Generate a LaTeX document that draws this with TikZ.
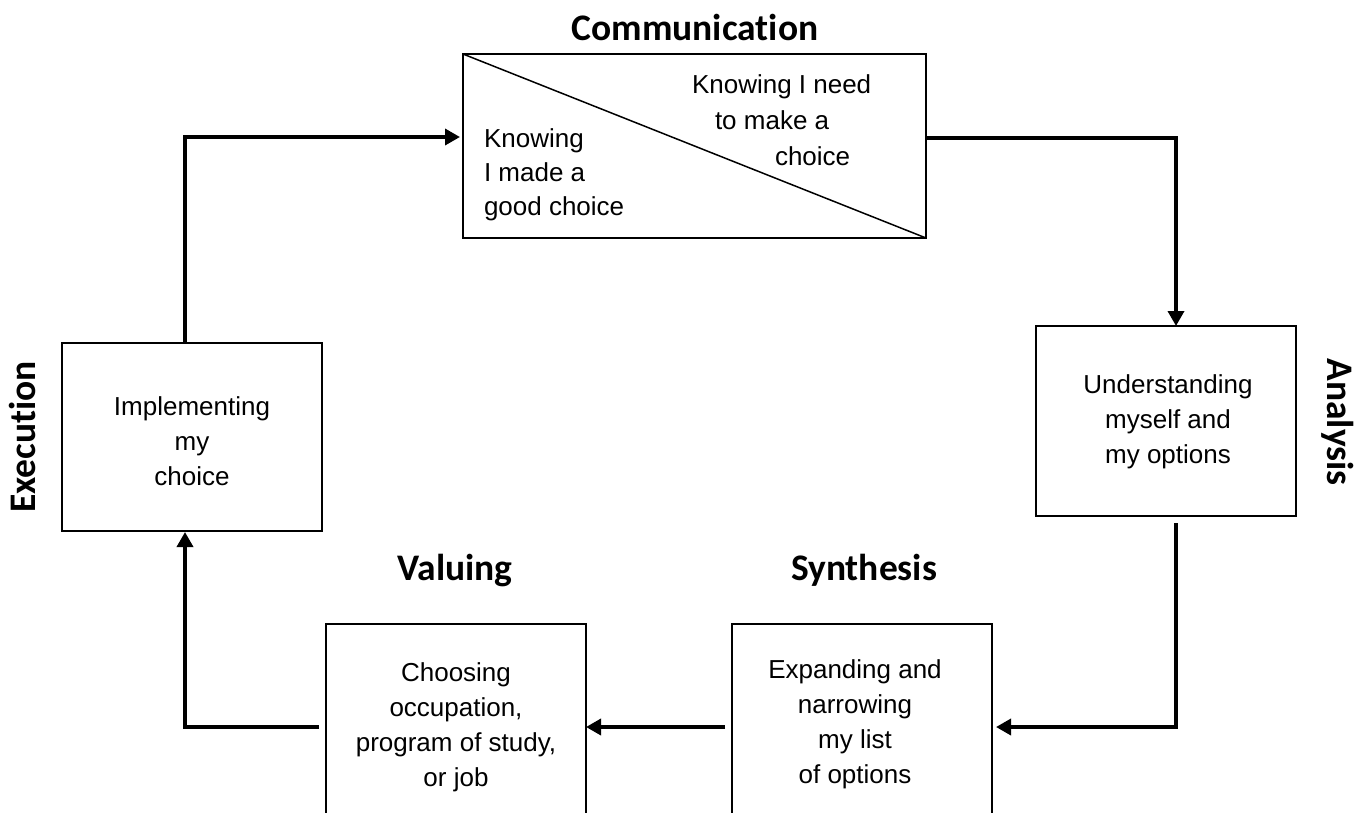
\documentclass[tikz,border=0pt]{standalone}
\usepackage{fontspec}
\setmainfont{Liberation Sans}
\newfontfamily\titlefont[Ligatures=NoCommon]{Carlito}
\usetikzlibrary{arrows.meta,calc}
\begin{document}
\begin{tikzpicture}[x=1pt,y=-1pt,
  box/.style={draw, line width=2pt, inner sep=0pt, outer sep=0pt, anchor=north west},
  flow/.style={line width=3.5pt, -{Triangle[length=15pt,width=16pt]}},
  body/.style={font=\fontsize{26}{35}\selectfont, inner sep=0pt, outer sep=0pt, align=center, anchor=north},
  ttl/.style={font=\titlefont\bfseries\fontsize{37.5}{40}\selectfont, inner sep=0pt, anchor=base}]
\useasboundingbox (0,0) rectangle (1368,812);
\clip (0,0) rectangle (1368,812);
\fill[white] (0,0) rectangle (1368,812);
% boxes
\node[box, minimum width=463pt, minimum height=184pt] (comm) at (463,54) {};
\node[box, minimum width=260pt, minimum height=190pt] (anal) at (1036,326) {};
\node[box, minimum width=260pt, minimum height=230pt] (synt) at (732,624) {};
\node[box, minimum width=260pt, minimum height=230pt] (valu) at (326,624) {};
\node[box, minimum width=260pt, minimum height=188pt] (exec) at (62,343) {};
\draw[line width=1.5pt] (comm.north west) -- (comm.south east);
% texts
\node[body] (exectxt) at (192,397) {Implementing\\my\\choice};
\node[body] (analtxt) at (1168,375) {Understanding\\myself and\\my options};
\node[body] (valutxt) at (456,663) {Choosing\\occupation,\\program of study,\\or job};
\node[body] (synttxt) at (855,660) {Expanding and\\narrowing\\my list\\of options};
\node[body, align=left, anchor=north west, font=\fontsize{26}{36}\selectfont] (need) at (692,75) {Knowing I need\\\hspace*{23pt}to make a\\\hspace*{83pt}choice};
\node[body, align=left, anchor=north west, font=\fontsize{26}{34}\selectfont] (made) at (484,129) {Knowing\\I made a\\good choice};
% titles
\node[ttl] (tcomm) at (695,40) {Communication};
\node[ttl] (tvalu) at (455,580) {Valuing};
\node[ttl] (tsynt) at (864,580) {Synthesis};
\node[ttl, rotate=90] (texec) at (35,437) {Execution};
\node[ttl, rotate=-90] (tanal) at (1327,422) {Analysis};
% connectors
\coordinate (c1) at (1176,138);
\coordinate (c2) at (1176,727);
\coordinate (c3) at (185,727);
\coordinate (c4) at (185,137);
\draw[flow] (comm.east |- c1) -- (c1) -- (anal.north -| c1);
\draw[flow] ($(anal.south -| c2)+(0,7)$) -- (c2) -- ($(synt.east |- c2)+(4,0)$);
\draw[flow] ($(synt.west |- c2)+(-7,0)$) -- (valu.east |- c2);
\draw[flow] ($(valu.west |- c3)+(-7,0)$) -- (c3) -- ($(exec.south -| c3)+(0,1)$);
\draw[flow] (exec.north -| c4) -- (c4) -- ($(comm.west |- c4)+(-3,0)$);
\end{tikzpicture}
\end{document}
